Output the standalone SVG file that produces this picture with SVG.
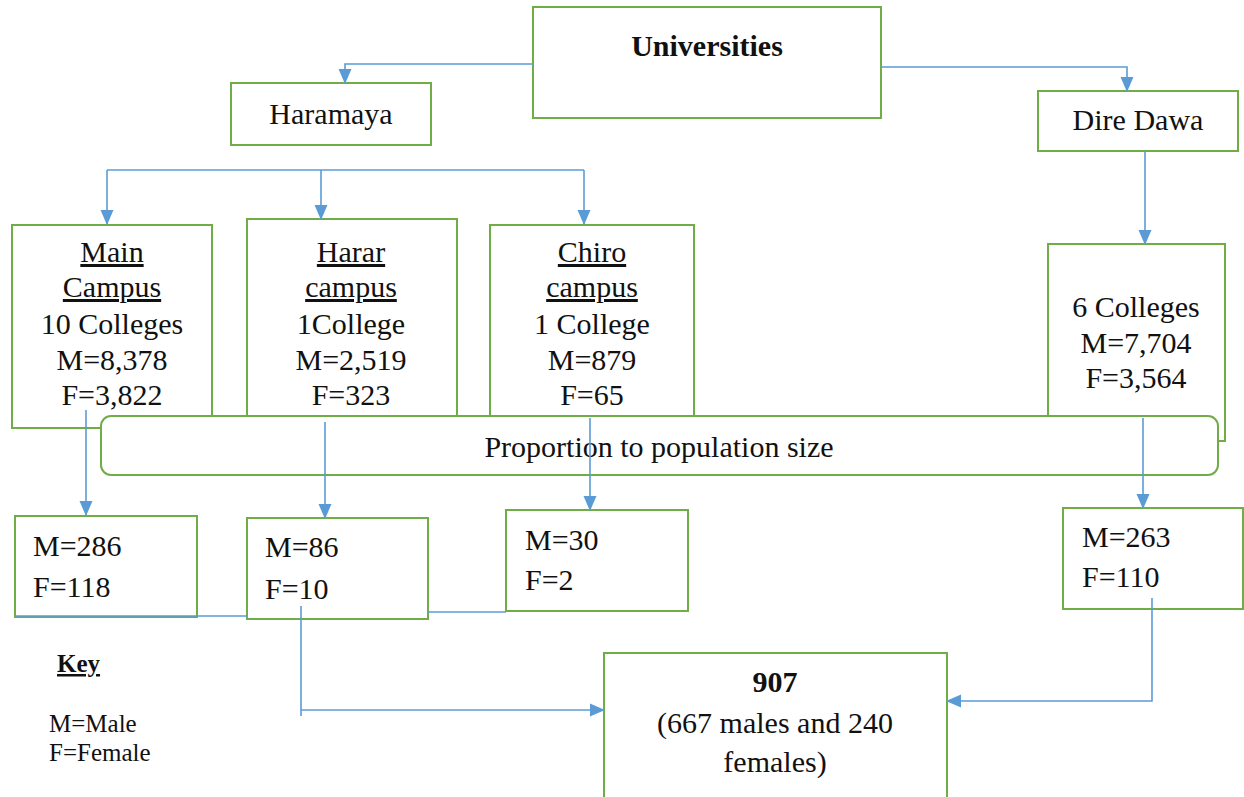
<svg xmlns="http://www.w3.org/2000/svg" width="1244" height="797" viewBox="0 0 1244 797">
<defs>
<style>
.box{fill:#fff;stroke:#70ad47;stroke-width:2}
.t{font-family:'Liberation Serif','DejaVu Serif',serif;font-size:30px;fill:#111}
.c{text-anchor:middle}
.b{font-weight:bold}
.u{text-decoration:underline}
.k{font-size:25px}
.ln{fill:none;stroke:#5b9bd5;stroke-width:1.6}
</style>
<marker id="ah" markerUnits="userSpaceOnUse" markerWidth="16" markerHeight="16" viewBox="0 0 16 16" refX="14" refY="8" orient="auto">
<path d="M0,1.5 L15,8 L0,14.5 Z" fill="#5b9bd5"/>
</marker>
</defs>
<rect width="1244" height="797" fill="#fff"/>

<g id="universities"><rect class="box" x="533" y="7" width="348" height="111"/><text class="t c b" x="707" y="56">Universities</text></g>
<g id="haramaya"><rect class="box" x="231" y="83" width="200" height="62"/><text class="t c" x="331" y="124">Haramaya</text></g>
<g id="diredawa"><rect class="box" x="1038" y="91" width="200" height="60"/><text class="t c" x="1138" y="130">Dire Dawa</text></g>

<g id="main-campus"><rect class="box" x="12" y="225" width="200" height="203"/>
<text class="t c u" x="112" y="262">Main</text><text class="t c u" x="112" y="297">Campus</text><text class="t c" x="112" y="334">10 Colleges</text><text class="t c" x="112" y="370">M=8,378</text><text class="t c" x="112" y="405">F=3,822</text></g>
<g id="harar-campus"><rect class="box" x="247" y="219" width="210" height="205"/>
<text class="t c u" x="351" y="262">Harar</text><text class="t c u" x="351" y="297">campus</text><text class="t c" x="351" y="334">1College</text><text class="t c" x="351" y="370">M=2,519</text><text class="t c" x="351" y="405">F=323</text></g>
<g id="chiro-campus"><rect class="box" x="490" y="225" width="204" height="199"/>
<text class="t c u" x="592" y="262">Chiro</text><text class="t c u" x="592" y="297">campus</text><text class="t c" x="592" y="334">1 College</text><text class="t c" x="592" y="370">M=879</text><text class="t c" x="592" y="405">F=65</text></g>
<g id="dd-colleges"><rect class="box" x="1048" y="244" width="177" height="197"/>
<text class="t c" x="1136" y="317">6 Colleges</text><text class="t c" x="1136" y="353">M=7,704</text><text class="t c" x="1136" y="388">F=3,564</text></g>

<g id="proportion"><rect class="box" x="101" y="416" width="1117" height="59" rx="10"/><text class="t c" x="659" y="457">Proportion to population size</text></g>

<g id="s-main"><rect class="box" x="15" y="516" width="182" height="101"/><text class="t" x="33" y="556">M=286</text><text class="t" x="33" y="597">F=118</text></g>
<g id="s-harar"><rect class="box" x="247" y="518" width="181" height="101"/><text class="t" x="265" y="557">M=86</text><text class="t" x="265" y="599">F=10</text></g>
<g id="s-chiro"><rect class="box" x="506" y="510" width="182" height="101"/><text class="t" x="525" y="550">M=30</text><text class="t" x="525" y="590">F=2</text></g>
<g id="s-dd"><rect class="box" x="1063" y="508" width="180" height="101"/><text class="t" x="1082" y="547">M=263</text><text class="t" x="1082" y="587">F=110</text></g>

<g id="total"><rect class="box" x="604" y="653" width="343" height="150"/>
<text class="t c b" x="775" y="692">907</text><text class="t c" x="775" y="733">(667 males and 240</text><text class="t c" x="775" y="772">females)</text></g>

<g id="key"><text class="t k b u" x="57" y="672">Key</text><text class="t k" x="49" y="732">M=Male</text><text class="t k" x="49" y="761">F=Female</text></g>

<g id="connectors">
<path class="ln" d="M533,64 H345 V83" marker-end="url(#ah)"/>
<path class="ln" d="M881,67 H1127 V91" marker-end="url(#ah)"/>
<path class="ln" d="M107,170 H584"/>
<path class="ln" d="M107,170 V224" marker-end="url(#ah)"/>
<path class="ln" d="M321,170 V219" marker-end="url(#ah)"/>
<path class="ln" d="M584,170 V224" marker-end="url(#ah)"/>
<path class="ln" d="M1145,151 V244" marker-end="url(#ah)"/>
<path class="ln" d="M86,410 V515" marker-end="url(#ah)"/>
<path class="ln" d="M325,422 V518" marker-end="url(#ah)"/>
<path class="ln" d="M590,418 V510" marker-end="url(#ah)"/>
<path class="ln" d="M1143,418 V508" marker-end="url(#ah)"/>
<path class="ln" d="M15,616 H247"/>
<path class="ln" d="M428,612 H506"/>
<path class="ln" d="M301,606 V716"/>
<path class="ln" d="M301,710 H604" marker-end="url(#ah)"/>
<path class="ln" d="M1152,598 V701 H947" marker-end="url(#ah)"/>
</g>
</svg>
